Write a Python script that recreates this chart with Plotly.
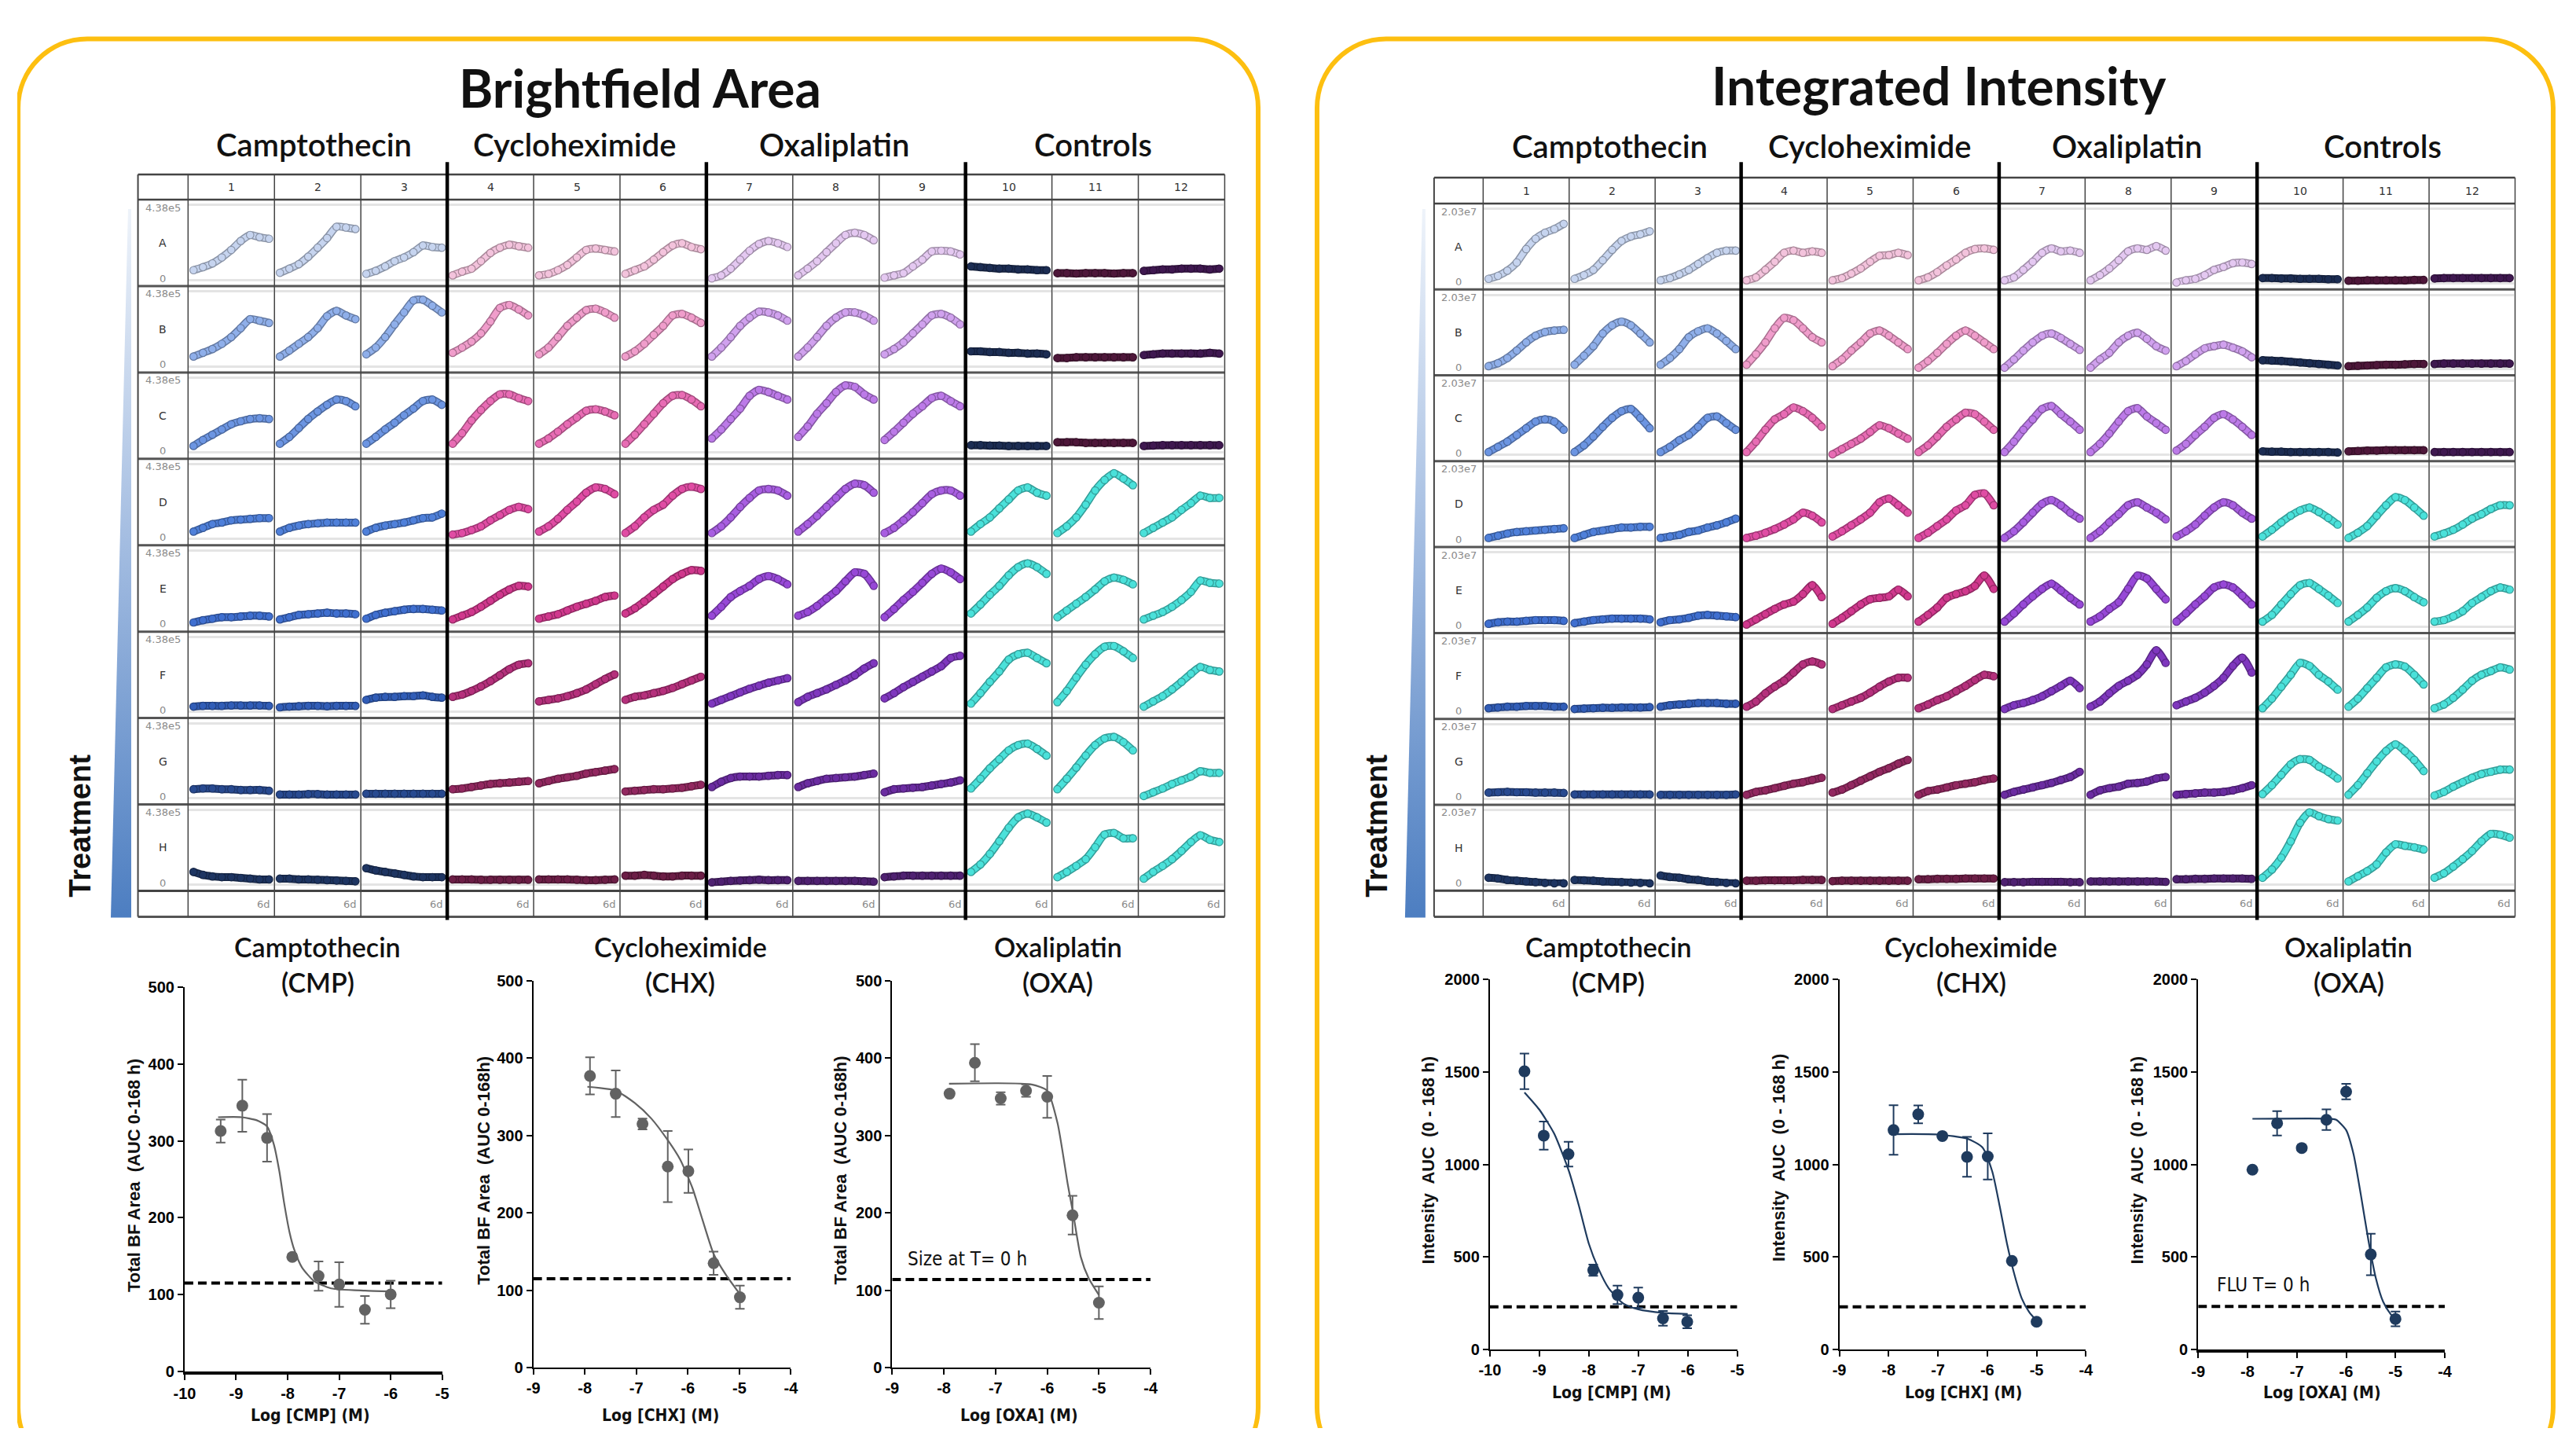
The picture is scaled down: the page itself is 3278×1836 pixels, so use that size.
import plotly.graph_objects as go

W, H = 3278, 1836          # reference canvas (page) size
OFF = 8                    # default page body margin
FW, FH = W - 2 * OFF, H - 2 * OFF
# small centred expansion that compensates the slight shrink seen in the photographed page
CX, CY = W / 2, H / 2
KX, KY = 1 / 0.9933, 1 / 0.9895

# ---------------------------------------------------------------- data
TIME_D = [0, 0.75, 1.5, 2.25, 3, 3.75, 4.5, 5.25, 6]
ROW_LETTERS = ["A", "B", "C", "D", "E", "F", "G", "H"]
COL_LABELS = [str(i) for i in range(1, 13)]
GROUP_NAMES = ["Camptothecin", "Cycloheximide", "Oxaliplatin", "Controls"]
BF_MAX_LABEL = "4.38e5"
II_MAX_LABEL = "2.03e7"
END_LABEL = "6d"

# Brightfield area time courses (fraction of 4.38e5), rows A-H, columns 1-12
BF_A = [
    [0.13, 0.17, 0.22, 0.30, 0.40, 0.52, 0.60, 0.57, 0.55],
    [0.095, 0.15, 0.21, 0.31, 0.43, 0.56, 0.71, 0.70, 0.68],
    [0.08, 0.12, 0.18, 0.25, 0.30, 0.37, 0.46, 0.44, 0.43],
    [0.06, 0.11, 0.15, 0.25, 0.36, 0.43, 0.47, 0.45, 0.43],
    [0.06, 0.08, 0.13, 0.20, 0.30, 0.40, 0.42, 0.40, 0.38],
    [0.08, 0.13, 0.18, 0.27, 0.37, 0.46, 0.49, 0.44, 0.41],
    [0.02, 0.06, 0.15, 0.27, 0.39, 0.48, 0.52, 0.49, 0.44],
    [0.06, 0.15, 0.25, 0.37, 0.49, 0.60, 0.63, 0.60, 0.53],
    [0.03, 0.06, 0.09, 0.18, 0.27, 0.38, 0.39, 0.38, 0.34],
    [0.18, 0.17, 0.16, 0.15, 0.15, 0.14, 0.14, 0.13, 0.13],
    [0.09, 0.09, 0.085, 0.09, 0.09, 0.09, 0.085, 0.09, 0.09],
    [0.12, 0.13, 0.14, 0.14, 0.15, 0.15, 0.15, 0.14, 0.15],
]
BF_B = [
    [0.13, 0.18, 0.23, 0.30, 0.39, 0.51, 0.63, 0.61, 0.58],
    [0.13, 0.21, 0.30, 0.39, 0.51, 0.67, 0.74, 0.68, 0.63],
    [0.16, 0.25, 0.39, 0.56, 0.72, 0.88, 0.89, 0.81, 0.72],
    [0.18, 0.25, 0.33, 0.44, 0.60, 0.78, 0.82, 0.76, 0.68],
    [0.16, 0.25, 0.39, 0.54, 0.65, 0.75, 0.77, 0.72, 0.65],
    [0.13, 0.20, 0.30, 0.42, 0.54, 0.68, 0.70, 0.65, 0.58],
    [0.13, 0.25, 0.39, 0.54, 0.65, 0.73, 0.72, 0.68, 0.61],
    [0.13, 0.25, 0.39, 0.54, 0.65, 0.72, 0.72, 0.68, 0.61],
    [0.16, 0.23, 0.32, 0.44, 0.56, 0.68, 0.70, 0.65, 0.56],
    [0.20, 0.20, 0.19, 0.19, 0.18, 0.18, 0.17, 0.17, 0.16],
    [0.11, 0.11, 0.12, 0.12, 0.12, 0.12, 0.12, 0.12, 0.12],
    [0.15, 0.16, 0.17, 0.17, 0.17, 0.17, 0.17, 0.18, 0.17],
]
BF_C = [
    [0.09, 0.17, 0.24, 0.31, 0.38, 0.42, 0.45, 0.46, 0.45],
    [0.12, 0.21, 0.33, 0.45, 0.55, 0.64, 0.71, 0.69, 0.62],
    [0.12, 0.21, 0.31, 0.40, 0.50, 0.59, 0.69, 0.71, 0.64],
    [0.12, 0.26, 0.43, 0.57, 0.69, 0.78, 0.78, 0.73, 0.69],
    [0.12, 0.19, 0.28, 0.38, 0.47, 0.56, 0.58, 0.55, 0.50],
    [0.12, 0.24, 0.38, 0.52, 0.66, 0.76, 0.77, 0.71, 0.62],
    [0.19, 0.31, 0.45, 0.59, 0.76, 0.84, 0.81, 0.76, 0.71],
    [0.21, 0.35, 0.52, 0.66, 0.81, 0.90, 0.88, 0.78, 0.71],
    [0.17, 0.28, 0.40, 0.52, 0.62, 0.73, 0.76, 0.69, 0.62],
    [0.10, 0.10, 0.095, 0.095, 0.09, 0.09, 0.09, 0.09, 0.09],
    [0.14, 0.14, 0.14, 0.13, 0.13, 0.13, 0.13, 0.13, 0.13],
    [0.09, 0.095, 0.10, 0.10, 0.10, 0.10, 0.10, 0.10, 0.10],
]
BF_D = [
    [0.10, 0.15, 0.20, 0.22, 0.25, 0.26, 0.27, 0.28, 0.28],
    [0.10, 0.15, 0.18, 0.20, 0.21, 0.22, 0.22, 0.22, 0.22],
    [0.10, 0.15, 0.18, 0.20, 0.22, 0.25, 0.28, 0.29, 0.34],
    [0.06, 0.08, 0.12, 0.17, 0.25, 0.32, 0.39, 0.43, 0.40],
    [0.10, 0.17, 0.27, 0.39, 0.50, 0.62, 0.69, 0.67, 0.60],
    [0.08, 0.17, 0.29, 0.39, 0.46, 0.58, 0.67, 0.70, 0.67],
    [0.08, 0.17, 0.29, 0.43, 0.55, 0.65, 0.67, 0.65, 0.58],
    [0.10, 0.20, 0.31, 0.43, 0.55, 0.67, 0.74, 0.72, 0.62],
    [0.08, 0.15, 0.25, 0.36, 0.48, 0.60, 0.65, 0.65, 0.58],
    [0.10, 0.20, 0.29, 0.41, 0.53, 0.65, 0.69, 0.62, 0.58],
    [0.08, 0.17, 0.29, 0.46, 0.65, 0.79, 0.88, 0.81, 0.72],
    [0.08, 0.15, 0.22, 0.29, 0.39, 0.48, 0.58, 0.55, 0.55],
]
BF_E = [
    [0.04, 0.07, 0.09, 0.11, 0.11, 0.12, 0.13, 0.13, 0.12],
    [0.08, 0.11, 0.14, 0.15, 0.16, 0.17, 0.16, 0.16, 0.15],
    [0.09, 0.14, 0.17, 0.19, 0.21, 0.22, 0.22, 0.21, 0.20],
    [0.08, 0.13, 0.18, 0.25, 0.33, 0.41, 0.48, 0.53, 0.52],
    [0.09, 0.12, 0.15, 0.20, 0.25, 0.29, 0.33, 0.38, 0.40],
    [0.16, 0.23, 0.32, 0.42, 0.52, 0.62, 0.69, 0.74, 0.73],
    [0.13, 0.25, 0.38, 0.46, 0.53, 0.62, 0.66, 0.62, 0.55],
    [0.13, 0.18, 0.26, 0.36, 0.46, 0.59, 0.71, 0.69, 0.53],
    [0.11, 0.22, 0.34, 0.45, 0.57, 0.69, 0.76, 0.71, 0.62],
    [0.16, 0.28, 0.41, 0.53, 0.67, 0.78, 0.83, 0.78, 0.69],
    [0.11, 0.20, 0.29, 0.38, 0.48, 0.59, 0.64, 0.61, 0.55],
    [0.08, 0.13, 0.18, 0.25, 0.34, 0.45, 0.60, 0.57, 0.56],
]
BF_F = [
    [0.07, 0.08, 0.08, 0.08, 0.085, 0.085, 0.085, 0.085, 0.08],
    [0.06, 0.07, 0.075, 0.08, 0.08, 0.075, 0.08, 0.08, 0.08],
    [0.16, 0.19, 0.20, 0.20, 0.21, 0.21, 0.22, 0.20, 0.19],
    [0.20, 0.23, 0.28, 0.34, 0.41, 0.49, 0.57, 0.63, 0.65],
    [0.14, 0.16, 0.18, 0.21, 0.25, 0.30, 0.37, 0.44, 0.50],
    [0.16, 0.20, 0.22, 0.25, 0.28, 0.32, 0.37, 0.42, 0.47],
    [0.11, 0.16, 0.21, 0.26, 0.31, 0.35, 0.39, 0.42, 0.45],
    [0.13, 0.20, 0.25, 0.30, 0.36, 0.42, 0.49, 0.58, 0.65],
    [0.18, 0.25, 0.33, 0.40, 0.47, 0.54, 0.61, 0.72, 0.75],
    [0.11, 0.25, 0.40, 0.54, 0.70, 0.77, 0.79, 0.72, 0.65],
    [0.13, 0.28, 0.46, 0.63, 0.77, 0.87, 0.88, 0.81, 0.72],
    [0.07, 0.14, 0.21, 0.30, 0.40, 0.51, 0.60, 0.56, 0.54],
]
BF_G = [
    [0.12, 0.13, 0.13, 0.12, 0.12, 0.11, 0.11, 0.11, 0.10],
    [0.05, 0.05, 0.05, 0.055, 0.055, 0.05, 0.05, 0.05, 0.05],
    [0.06, 0.06, 0.06, 0.06, 0.06, 0.06, 0.06, 0.06, 0.06],
    [0.12, 0.13, 0.15, 0.17, 0.19, 0.20, 0.21, 0.22, 0.23],
    [0.20, 0.23, 0.26, 0.28, 0.30, 0.33, 0.35, 0.37, 0.39],
    [0.09, 0.10, 0.11, 0.12, 0.12, 0.13, 0.14, 0.16, 0.18],
    [0.15, 0.22, 0.27, 0.29, 0.29, 0.29, 0.30, 0.31, 0.31],
    [0.15, 0.20, 0.23, 0.26, 0.27, 0.28, 0.29, 0.31, 0.33],
    [0.08, 0.12, 0.13, 0.14, 0.15, 0.17, 0.19, 0.21, 0.24],
    [0.13, 0.26, 0.40, 0.52, 0.64, 0.71, 0.73, 0.66, 0.57],
    [0.12, 0.26, 0.41, 0.57, 0.71, 0.80, 0.82, 0.75, 0.64],
    [0.03, 0.08, 0.13, 0.19, 0.24, 0.29, 0.36, 0.34, 0.34],
]
BF_H = [
    [0.17, 0.13, 0.11, 0.10, 0.10, 0.09, 0.08, 0.07, 0.07],
    [0.08, 0.08, 0.07, 0.07, 0.065, 0.06, 0.055, 0.05, 0.045],
    [0.22, 0.19, 0.17, 0.15, 0.13, 0.11, 0.10, 0.10, 0.10],
    [0.07, 0.07, 0.07, 0.065, 0.065, 0.065, 0.065, 0.065, 0.065],
    [0.07, 0.07, 0.07, 0.07, 0.065, 0.06, 0.06, 0.065, 0.07],
    [0.12, 0.12, 0.13, 0.12, 0.11, 0.11, 0.12, 0.12, 0.12],
    [0.03, 0.04, 0.05, 0.055, 0.06, 0.065, 0.06, 0.06, 0.06],
    [0.05, 0.05, 0.05, 0.05, 0.05, 0.05, 0.05, 0.045, 0.04],
    [0.10, 0.11, 0.12, 0.12, 0.12, 0.12, 0.12, 0.12, 0.12],
    [0.17, 0.27, 0.41, 0.58, 0.76, 0.90, 0.95, 0.90, 0.83],
    [0.10, 0.17, 0.25, 0.34, 0.50, 0.67, 0.69, 0.62, 0.62],
    [0.08, 0.17, 0.25, 0.34, 0.45, 0.57, 0.66, 0.60, 0.57],
]

# Integrated intensity time courses (fraction of 2.03e7)
II_A = [
    [0.06, 0.10, 0.17, 0.28, 0.46, 0.60, 0.68, 0.73, 0.80],
    [0.06, 0.11, 0.18, 0.31, 0.45, 0.57, 0.63, 0.66, 0.70],
    [0.04, 0.07, 0.12, 0.18, 0.26, 0.34, 0.41, 0.44, 0.44],
    [0.04, 0.08, 0.18, 0.29, 0.41, 0.44, 0.41, 0.43, 0.41],
    [0.04, 0.07, 0.13, 0.20, 0.29, 0.37, 0.38, 0.41, 0.38],
    [0.04, 0.08, 0.15, 0.24, 0.32, 0.41, 0.46, 0.47, 0.45],
    [0.04, 0.08, 0.18, 0.29, 0.41, 0.47, 0.43, 0.44, 0.41],
    [0.04, 0.11, 0.20, 0.31, 0.43, 0.47, 0.45, 0.50, 0.44],
    [0.01, 0.04, 0.06, 0.11, 0.18, 0.22, 0.27, 0.28, 0.26],
    [0.07, 0.07, 0.065, 0.065, 0.06, 0.06, 0.06, 0.055, 0.055],
    [0.035, 0.035, 0.04, 0.04, 0.04, 0.04, 0.04, 0.045, 0.045],
    [0.065, 0.07, 0.07, 0.07, 0.07, 0.07, 0.07, 0.07, 0.07],
]
II_B = [
    [0.04, 0.08, 0.15, 0.25, 0.36, 0.45, 0.50, 0.52, 0.53],
    [0.06, 0.18, 0.31, 0.48, 0.59, 0.64, 0.59, 0.48, 0.36],
    [0.06, 0.15, 0.27, 0.43, 0.51, 0.55, 0.48, 0.38, 0.27],
    [0.06, 0.20, 0.36, 0.55, 0.69, 0.66, 0.55, 0.43, 0.36],
    [0.04, 0.13, 0.25, 0.36, 0.48, 0.52, 0.45, 0.36, 0.27],
    [0.02, 0.11, 0.22, 0.34, 0.45, 0.52, 0.45, 0.36, 0.27],
    [0.02, 0.13, 0.25, 0.36, 0.45, 0.48, 0.42, 0.34, 0.26],
    [0.02, 0.13, 0.22, 0.36, 0.45, 0.49, 0.41, 0.31, 0.25],
    [0.04, 0.11, 0.20, 0.28, 0.31, 0.33, 0.29, 0.24, 0.16],
    [0.12, 0.115, 0.11, 0.10, 0.09, 0.08, 0.07, 0.06, 0.05],
    [0.04, 0.045, 0.05, 0.055, 0.06, 0.06, 0.065, 0.07, 0.07],
    [0.07, 0.075, 0.075, 0.075, 0.075, 0.075, 0.075, 0.075, 0.075],
]
II_C = [
    [0.04, 0.11, 0.18, 0.27, 0.36, 0.45, 0.48, 0.45, 0.34],
    [0.04, 0.13, 0.25, 0.38, 0.50, 0.59, 0.62, 0.50, 0.36],
    [0.04, 0.11, 0.20, 0.27, 0.38, 0.50, 0.52, 0.43, 0.34],
    [0.04, 0.18, 0.34, 0.48, 0.55, 0.64, 0.59, 0.50, 0.38],
    [0.01, 0.08, 0.15, 0.22, 0.31, 0.40, 0.36, 0.29, 0.22],
    [0.04, 0.13, 0.25, 0.38, 0.48, 0.57, 0.55, 0.45, 0.34],
    [0.04, 0.18, 0.34, 0.48, 0.62, 0.66, 0.55, 0.45, 0.34],
    [0.04, 0.15, 0.29, 0.45, 0.59, 0.63, 0.52, 0.43, 0.34],
    [0.06, 0.15, 0.27, 0.38, 0.50, 0.55, 0.48, 0.38, 0.27],
    [0.05, 0.045, 0.045, 0.04, 0.04, 0.04, 0.04, 0.04, 0.035],
    [0.05, 0.055, 0.06, 0.06, 0.065, 0.065, 0.065, 0.065, 0.065],
    [0.04, 0.04, 0.04, 0.04, 0.04, 0.04, 0.04, 0.04, 0.04],
]
II_D = [
    [0.04, 0.07, 0.10, 0.12, 0.13, 0.14, 0.15, 0.16, 0.17],
    [0.04, 0.08, 0.12, 0.14, 0.16, 0.18, 0.18, 0.19, 0.19],
    [0.04, 0.06, 0.08, 0.12, 0.14, 0.18, 0.21, 0.25, 0.30],
    [0.04, 0.07, 0.11, 0.16, 0.22, 0.29, 0.38, 0.34, 0.25],
    [0.06, 0.13, 0.21, 0.29, 0.38, 0.52, 0.57, 0.48, 0.38],
    [0.04, 0.11, 0.20, 0.29, 0.41, 0.48, 0.62, 0.64, 0.48],
    [0.04, 0.13, 0.25, 0.38, 0.50, 0.55, 0.48, 0.38, 0.30],
    [0.04, 0.13, 0.25, 0.36, 0.48, 0.52, 0.45, 0.38, 0.29],
    [0.06, 0.13, 0.22, 0.34, 0.45, 0.52, 0.48, 0.38, 0.30],
    [0.06, 0.15, 0.25, 0.34, 0.41, 0.45, 0.39, 0.31, 0.22],
    [0.04, 0.11, 0.20, 0.34, 0.48, 0.59, 0.55, 0.45, 0.34],
    [0.06, 0.10, 0.15, 0.22, 0.30, 0.36, 0.43, 0.48, 0.48],
]
II_E = [
    [0.04, 0.06, 0.07, 0.07, 0.08, 0.09, 0.09, 0.09, 0.08],
    [0.05, 0.07, 0.09, 0.10, 0.11, 0.11, 0.11, 0.11, 0.10],
    [0.06, 0.09, 0.10, 0.12, 0.15, 0.16, 0.15, 0.14, 0.13],
    [0.03, 0.10, 0.17, 0.24, 0.30, 0.34, 0.44, 0.56, 0.40],
    [0.04, 0.12, 0.21, 0.30, 0.37, 0.39, 0.41, 0.50, 0.41],
    [0.07, 0.16, 0.26, 0.39, 0.44, 0.48, 0.55, 0.69, 0.51],
    [0.07, 0.18, 0.30, 0.41, 0.51, 0.58, 0.49, 0.39, 0.30],
    [0.07, 0.14, 0.24, 0.33, 0.51, 0.69, 0.65, 0.51, 0.37],
    [0.07, 0.18, 0.30, 0.41, 0.53, 0.57, 0.53, 0.42, 0.30],
    [0.07, 0.16, 0.30, 0.44, 0.56, 0.59, 0.51, 0.42, 0.32],
    [0.07, 0.16, 0.26, 0.39, 0.48, 0.52, 0.48, 0.40, 0.33],
    [0.07, 0.09, 0.14, 0.21, 0.32, 0.40, 0.48, 0.53, 0.50],
]
II_F = [
    [0.06, 0.07, 0.08, 0.08, 0.09, 0.09, 0.09, 0.08, 0.08],
    [0.05, 0.055, 0.06, 0.065, 0.065, 0.07, 0.07, 0.07, 0.075],
    [0.08, 0.10, 0.11, 0.12, 0.13, 0.13, 0.13, 0.12, 0.12],
    [0.08, 0.15, 0.26, 0.35, 0.43, 0.54, 0.65, 0.69, 0.65],
    [0.05, 0.10, 0.15, 0.20, 0.27, 0.35, 0.42, 0.47, 0.47],
    [0.06, 0.11, 0.17, 0.22, 0.29, 0.36, 0.44, 0.51, 0.49],
    [0.05, 0.10, 0.13, 0.17, 0.22, 0.29, 0.36, 0.43, 0.33],
    [0.08, 0.15, 0.26, 0.36, 0.43, 0.51, 0.65, 0.84, 0.67],
    [0.10, 0.15, 0.20, 0.27, 0.36, 0.47, 0.63, 0.74, 0.54],
    [0.06, 0.19, 0.35, 0.51, 0.67, 0.63, 0.51, 0.42, 0.31],
    [0.08, 0.19, 0.33, 0.47, 0.61, 0.65, 0.62, 0.51, 0.38],
    [0.06, 0.11, 0.20, 0.31, 0.43, 0.51, 0.56, 0.61, 0.58],
]
II_G = [
    [0.08, 0.085, 0.09, 0.085, 0.085, 0.08, 0.08, 0.08, 0.075],
    [0.055, 0.055, 0.055, 0.055, 0.055, 0.055, 0.055, 0.055, 0.055],
    [0.05, 0.05, 0.05, 0.05, 0.05, 0.05, 0.05, 0.05, 0.055],
    [0.05, 0.09, 0.11, 0.14, 0.17, 0.20, 0.22, 0.25, 0.28],
    [0.08, 0.12, 0.18, 0.24, 0.30, 0.36, 0.41, 0.47, 0.52],
    [0.05, 0.10, 0.12, 0.15, 0.18, 0.20, 0.22, 0.25, 0.27],
    [0.05, 0.09, 0.12, 0.15, 0.18, 0.21, 0.25, 0.29, 0.36],
    [0.05, 0.11, 0.14, 0.16, 0.20, 0.21, 0.23, 0.27, 0.29],
    [0.05, 0.06, 0.07, 0.08, 0.08, 0.09, 0.11, 0.14, 0.18],
    [0.06, 0.18, 0.32, 0.46, 0.53, 0.52, 0.43, 0.36, 0.27],
    [0.05, 0.18, 0.34, 0.50, 0.64, 0.73, 0.64, 0.52, 0.37],
    [0.04, 0.09, 0.16, 0.22, 0.28, 0.33, 0.36, 0.39, 0.39],
]
II_H = [
    [0.09, 0.08, 0.06, 0.05, 0.04, 0.03, 0.02, 0.015, 0.015],
    [0.06, 0.055, 0.05, 0.04, 0.035, 0.03, 0.025, 0.02, 0.015],
    [0.12, 0.10, 0.09, 0.07, 0.06, 0.04, 0.03, 0.02, 0.015],
    [0.05, 0.05, 0.055, 0.055, 0.055, 0.055, 0.06, 0.06, 0.06],
    [0.045, 0.05, 0.05, 0.05, 0.05, 0.05, 0.05, 0.05, 0.05],
    [0.07, 0.07, 0.075, 0.075, 0.075, 0.08, 0.08, 0.08, 0.08],
    [0.03, 0.03, 0.03, 0.035, 0.035, 0.035, 0.035, 0.03, 0.03],
    [0.04, 0.04, 0.04, 0.04, 0.04, 0.04, 0.04, 0.04, 0.035],
    [0.07, 0.07, 0.075, 0.075, 0.08, 0.08, 0.08, 0.08, 0.075],
    [0.09, 0.20, 0.36, 0.58, 0.83, 0.97, 0.92, 0.88, 0.86],
    [0.04, 0.11, 0.18, 0.27, 0.43, 0.54, 0.52, 0.50, 0.47],
    [0.09, 0.15, 0.24, 0.34, 0.45, 0.58, 0.68, 0.67, 0.63],
]
BF_ROWS = [BF_A, BF_B, BF_C, BF_D, BF_E, BF_F, BF_G, BF_H]
II_ROWS = [II_A, II_B, II_C, II_D, II_E, II_F, II_G, II_H]

# dose-response panels
DOSE_NAMES = ["Camptothecin", "Cycloheximide", "Oxaliplatin"]
DOSE_ABBR = ["(CMP)", "(CHX)", "(OXA)"]
X_TITLES = ["Log [CMP] (M)", "Log [CHX] (M)", "Log [OXA] (M)"]
BF_YTITLES = ["Total BF Area  (AUC 0-168 h)", "Total BF Area  (AUC 0-168h)",
              "Total BF Area  (AUC 0-168h)"]
II_YTITLES = ["Intensity  AUC  (0 - 168 h)"] * 3
X_TICKS = [[-10, -9, -8, -7, -6, -5], [-9, -8, -7, -6, -5, -4], [-9, -8, -7, -6, -5, -4]]
BF_YTICKS = [0, 100, 200, 300, 400, 500]
II_YTICKS = [0, 500, 1000, 1500, 2000]
BF_NOTE = "Size at T= 0 h"
II_NOTE = "FLU T= 0 h"
BF_NOTE_XY = (-8.73, 140)
II_NOTE_XY = (-8.65, 349)

BF_CMP_X = [-9.3, -8.88, -8.4, -7.91, -7.4, -7.0, -6.5, -6.0]
BF_CMP_Y = [313, 346, 304, 149, 124, 113, 80, 100]
BF_CMP_E = [15, 34, 31, 4, 19, 29, 18, 18]
BF_CMP_FX = [-9.35, -8.9, -8.6, -8.4, -8.27, -8.16, -8.07, -7.96, -7.87, -7.72, -7.48, -7.16, -6.5, -6.0]
BF_CMP_FY = [331, 331, 327, 319, 296, 260, 220, 180, 158, 135, 117, 108, 105, 104]

BF_CHX_X = [-7.9, -7.4, -6.88, -6.39, -5.99, -5.5, -4.99]
BF_CHX_Y = [377, 354, 315, 260, 254, 135, 91]
BF_CHX_E = [24, 30, 7, 46, 28, 15, 15]
BF_CHX_FX = [-7.95, -7.4, -7.03, -6.71, -6.39, -6.15, -5.91, -5.72, -5.5, -5.27, -5.0]
BF_CHX_FY = [363, 358, 342, 322, 294, 269, 232, 192, 147, 121, 96]

BF_OXA_X = [-7.89, -7.4, -6.9, -6.41, -6.0, -5.51, -5.0]
BF_OXA_Y = [354, 394, 348, 358, 350, 197, 84]
BF_OXA_E = [3, 24, 8, 8, 27, 25, 21]
BF_OXA_FX = [-7.9, -6.3, -6.0, -5.8, -5.6, -5.5, -5.35, -5.2, -5.0]
BF_OXA_FY = [367, 366, 358, 316, 236, 200, 143, 116, 94]
BF_T0 = [115, 115, 114]

II_CMP_X = [-9.3, -8.91, -8.41, -7.91, -7.42, -7.0, -6.5, -6.01]
II_CMP_Y = [1504, 1156, 1056, 428, 294, 279, 167, 149]
II_CMP_E = [96, 76, 67, 30, 50, 55, 40, 35]
II_CMP_FX = [-9.3, -9.0, -8.7, -8.4, -8.2, -8.0, -7.8, -7.6, -7.3, -7.0, -6.5, -6.0]
II_CMP_FY = [1390, 1297, 1167, 963, 777, 572, 433, 331, 247, 216, 197, 191]

II_CHX_X = [-7.9, -7.4, -6.91, -6.41, -5.99, -5.5, -5.0]
II_CHX_Y = [1186, 1271, 1154, 1041, 1043, 478, 149]
II_CHX_E = [134, 48, 8, 108, 125, 5, 10]
II_CHX_FX = [-7.9, -7.0, -6.4, -6.1, -5.9, -5.75, -5.6, -5.45, -5.3, -5.15, -5.0]
II_CHX_FY = [1164, 1162, 1139, 1093, 963, 777, 572, 405, 275, 201, 154]

II_OXA_X = [-7.9, -7.4, -6.9, -6.4, -6.0, -5.5, -5.0]
II_OXA_Y = [972, 1223, 1089, 1242, 1394, 513, 164]
II_OXA_E = [5, 66, 5, 56, 42, 112, 40]
II_OXA_FX = [-7.9, -6.3, -6.2, -6.0, -5.85, -5.7, -5.55, -5.4, -5.25, -5.1, -5.0]
II_OXA_FY = [1247, 1247, 1242, 1186, 1056, 833, 591, 387, 257, 191, 164]
II_T0 = [230, 230, 232]

# ---------------------------------------------------------------- style
CPT_FILL = ["#c6d4ef", "#8fafea", "#6c95e2", "#4f80da", "#3f6fd0", "#315db7", "#284a90", "#1e3562"]
CHX_FILL = ["#f3c3dc", "#f09dcb", "#e86cb4", "#e04ca4", "#d0388d", "#b5307c", "#922860", "#6c1e46"]
OXA_FILL = ["#e4c8f1", "#d0a1ee", "#bc7ae8", "#a85ee1", "#9748d7", "#7f37be", "#6b2ca1", "#4f2171"]
CTRL_DARK = ["#1c2d53", "#4e173a", "#3f1850"]
CYAN = "#4ae1da"
ORANGE = "#fdbf10"
BF_DOT = "#626262"
II_DOT = "#1f3b5e"

LATO = "Lato, Open Sans, sans-serif"
ARIAL = "Liberation Sans, Arial, sans-serif"
NARROW = "Liberation Sans Narrow, Arial Narrow, DejaVu Sans Condensed, sans-serif"
VERD = "DejaVu Sans, Verdana, sans-serif"


def darker(h, f=0.70):
    h = h.lstrip("#")
    r, g, b = int(h[0:2], 16), int(h[2:4], 16), int(h[4:6], 16)
    return "#%02x%02x%02x" % (int(r * f), int(g * f), int(b * f))


def cell_fill(r, c):
    if c < 3:
        return CPT_FILL[r]
    if c < 6:
        return CHX_FILL[r]
    if c < 9:
        return OXA_FILL[r]
    return CTRL_DARK[c - 9] if r < 3 else CYAN


def page_x(px):
    return CX + (px - CX) * KX


def page_y(py):
    return CY + (py - CY) * KY


fig = go.Figure()
lay = {}
shapes = []
annotations = []
n_ax = [0]


def add_axes(x0, x1, ytop, ybot, xr, yr, xkw=None, ykw=None, raw=False):
    """x0..x1, ytop..ybot are reference pixel positions of the plot area."""
    n_ax[0] += 1
    k = n_ax[0]
    s = "" if k == 1 else str(k)
    if raw:
        dx, dy = [0, 1], [0, 1]
    else:
        dx = [max(0, (page_x(x0) - OFF) / FW), min(1, (page_x(x1) - OFF) / FW)]
        dy = [max(0, 1 - (page_y(ybot) - OFF) / FH), min(1, 1 - (page_y(ytop) - OFF) / FH)]
    xd = dict(domain=dx, range=xr, anchor="y" + s, fixedrange=True)
    yd = dict(domain=dy, range=yr, anchor="x" + s, fixedrange=True)
    xd.update(xkw or {})
    yd.update(ykw or {})
    lay["xaxis" + s] = xd
    lay["yaxis" + s] = yd
    return "x" + s, "y" + s


def ann(x, y, text, size, family, color="#111111", weight="normal", xanchor="center",
        yanchor="middle", angle=0, xref="x", yref="y"):
    annotations.append(dict(x=x, y=y, xref=xref, yref=yref, text=text, showarrow=False,
                            font=dict(family=family, size=size, color=color, weight=weight),
                            xanchor=xanchor, yanchor=yanchor, textangle=angle))


def hline(x0, x1, y, color, width):
    shapes.append(dict(type="line", xref="x", yref="y", x0=x0, x1=x1, y0=y, y1=y,
                       layer="above", line=dict(color=color, width=width)))


def vline(x, y0, y1, color, width):
    shapes.append(dict(type="line", xref="x", yref="y", x0=x, x1=x, y0=y0, y1=y1,
                       layer="above", line=dict(color=color, width=width)))


# canvas axis in reference pixel coordinates (for decorations)
rx0 = CX + (OFF - CX) / KX
rx1 = CX + (OFF + FW - CX) / KX
ry0 = CY + (OFF - CY) / KY
ry1 = CY + (OFF + FH - CY) / KY
add_axes(0, 0, 0, 0, [rx0, rx1], [ry1, ry0], dict(visible=False), dict(visible=False), raw=True)

PANELS = [
    dict(rows=BF_ROWS, maxlab=BF_MAX_LABEL, title="Brightfield Area", tx=812, ty=110,
         left=172.6, c0=236.4, cw=110.0, ht=221, hb=253.0, rh=110.1, fb=1167,
         gx=[397, 729, 1059, 1389], gy=183, border=(20, 1599), treat_x=99, wedge_r=164),
    dict(rows=II_ROWS, maxlab=II_MAX_LABEL, title="Integrated Intensity", tx=2466, ty=107,
         left=1823, c0=1885.5, cw=109.5, ht=225, hb=258, rh=109.44, fb=1167,
         gx=[2047, 2377.5, 2705.5, 3031], gy=185, border=(1674, 3248), treat_x=1750, wedge_r=1812),
]


def rounded_path(x0, y0, x1, y1, r):
    k = 0.5523 * r
    return (f"M {x0 + r},{y0} L {x1 - r},{y0} C {x1 - r + k},{y0} {x1},{y0 + r - k} {x1},{y0 + r} "
            f"L {x1},{y1 - r} C {x1},{y1 - r + k} {x1 - r + k},{y1} {x1 - r},{y1} "
            f"L {x0 + r},{y1} C {x0 + r - k},{y1} {x0},{y1 - r + k} {x0},{y1 - r} "
            f"L {x0},{y0 + r} C {x0},{y0 + r - k} {x0 + r - k},{y0} {x0 + r},{y0} Z")


for p in PANELS:
    # orange rounded frame
    shapes.append(dict(type="path", xref="x", yref="y", layer="above",
                       path=rounded_path(p["border"][0], 48, p["border"][1], 1880, 88),
                       line=dict(color=ORANGE, width=6)))
    ann(p["tx"], p["ty"], p["title"], 66, LATO, weight="bold")
    for g, gx in zip(GROUP_NAMES, p["gx"]):
        ann(gx, p["gy"], g, 40, LATO, weight=600)

    left, c0, cw, ht, hb, rh, fb = p["left"], p["c0"], p["cw"], p["ht"], p["hb"], p["rh"], p["fb"]
    right = c0 + 12 * cw
    hbot = hb + 8 * rh

    # treatment wedge + label
    wr = p["wedge_r"]
    fig.add_trace(go.Scatter(x=[wr - 4, wr, wr, wr - 26, wr - 4], y=[265, 265, 1168, 1168, 265],
                             xaxis="x", yaxis="y", mode="lines", fill="toself",
                             line=dict(width=0, color="rgba(0,0,0,0)"),
                             fillgradient=dict(type="vertical", start=265, stop=1168,
                                               colorscale=[[0, "#eef3fa"], [0.5, "#9db8df"], [1, "#4a7cc0"]]),
                             hoverinfo="skip", showlegend=False))
    ann(p["treat_x"], 1051, "Treatment", 38, ARIAL, weight="bold", angle=-90)

    # cells
    for r in range(8):
        top = hb + r * rh
        bot = top + rh
        ann((left + c0) / 2, top + 10, p["maxlab"], 13, VERD, color="#8a8a8a")
        ann((left + c0) / 2, top + rh / 2, ROW_LETTERS[r], 14, VERD, color="#333333")
        ann((left + c0) / 2, bot - 10, "0", 13, VERD, color="#8a8a8a")
        for c in range(12):
            xl = c0 + c * cw
            xa, ya = add_axes(xl + 1, xl + cw - 1, top + 5, bot - 6, [-0.37, 6.37], [-0.02, 1.02],
                              dict(visible=False),
                              dict(showgrid=True, gridcolor="#e4e4e4", gridwidth=3, tickvals=[0, 1],
                                   showticklabels=False, zeroline=False, ticks="", showline=False))
            vals = p["rows"][r][c]
            fc = cell_fill(r, c)
            ec = darker(fc)
            fig.add_trace(go.Scatter(x=TIME_D, y=vals, xaxis=xa, yaxis=ya, mode="lines",
                                     line=dict(color=ec, width=10, shape="spline", smoothing=0.7),
                                     hoverinfo="skip", showlegend=False, cliponaxis=False))
            fig.add_trace(go.Scatter(x=TIME_D, y=vals, xaxis=xa, yaxis=ya, mode="lines+markers",
                                     line=dict(color=fc, width=7, shape="spline", smoothing=0.7),
                                     marker=dict(size=9.5, color=fc, line=dict(color=ec, width=1.2)),
                                     hoverinfo="skip", showlegend=False, cliponaxis=False))
    # column numbers and footer
    for c in range(12):
        ann(c0 + (c + 0.5) * cw, (ht + hb) / 2, COL_LABELS[c], 14, VERD, color="#333333")
        ann(c0 + (c + 1) * cw - 3, (hbot + fb) / 2, END_LABEL, 13, VERD, color="#8a8a8a", xanchor="right")
    # table lines
    hline(left, right, ht, "#444444", 2.5)
    hline(left, right, hb, "#444444", 2.5)
    for r in range(1, 8):
        hline(left, right, hb + r * rh, "#555555", 3)
    hline(left, right, hbot, "#444444", 3)
    hline(left, right, fb, "#555555", 3)
    vline(left, ht, fb, "#444444", 2)
    for c in range(13):
        vline(c0 + c * cw, ht, fb, "#444444", 1.5)
    for c in (3, 6, 9):
        vline(c0 + c * cw, 205, 1171, "#000000", 4.5)

# ---------------------------------------------------------------- dose-response panels
BF_BOXES = [(232, 560, 1257, 1746), (676, 1004, 1248.4, 1741.5), (1133, 1462, 1248.4, 1741.5)]
II_BOXES = [(1894, 2209, 1247, 1718), (2339, 2653, 1247, 1718), (2796, 3110, 1247, 1718)]
BF_TITLE_X = [401.6, 863, 1344]
II_TITLE_X = [2045, 2507, 2987.5]
BF_XT = [(392, 1802), (838, 1802), (1295, 1802)]
II_XT = [(2049.5, 1773), (2496.6, 1773), (2954, 1773)]
BF_YT = [(167, 1496), (612, 1490), (1067, 1490)]
II_YT = [(1815.5, 1477), (2261.5, 1474), (2718, 1477)]

DOSE_SETS = [
    dict(boxes=BF_BOXES, tx=BF_TITLE_X, xt=BF_XT, yt=BF_YT, ytitles=BF_YTITLES, yticks=BF_YTICKS,
         yr=[0, 500], color=BF_DOT, t0=BF_T0, note=BF_NOTE, note_xy=BF_NOTE_XY, xlw=[4, 2, 2],
         data=[(BF_CMP_X, BF_CMP_Y, BF_CMP_E, BF_CMP_FX, BF_CMP_FY),
               (BF_CHX_X, BF_CHX_Y, BF_CHX_E, BF_CHX_FX, BF_CHX_FY),
               (BF_OXA_X, BF_OXA_Y, BF_OXA_E, BF_OXA_FX, BF_OXA_FY)]),
    dict(boxes=II_BOXES, tx=II_TITLE_X, xt=II_XT, yt=II_YT, ytitles=II_YTITLES, yticks=II_YTICKS,
         yr=[0, 2000], color=II_DOT, t0=II_T0, note=II_NOTE, note_xy=II_NOTE_XY, xlw=[2, 2, 4],
         data=[(II_CMP_X, II_CMP_Y, II_CMP_E, II_CMP_FX, II_CMP_FY),
               (II_CHX_X, II_CHX_Y, II_CHX_E, II_CHX_FX, II_CHX_FY),
               (II_OXA_X, II_OXA_Y, II_OXA_E, II_OXA_FX, II_OXA_FY)]),
]

tickfont = dict(family=ARIAL, size=20, color="black", weight="bold")
for ds in DOSE_SETS:
    for i in range(3):
        x0, x1, yt, yb = ds["boxes"][i]
        xt = X_TICKS[i]
        xr = [xt[0], xt[-1]]
        axis_common = dict(showline=True, linecolor="black", ticks="outside", ticklen=7, tickwidth=2,
                           tickcolor="black", showgrid=False, zeroline=False, tickfont=tickfont)
        xa, ya = add_axes(x0, x1, yt, yb, xr, ds["yr"],
                          dict(axis_common, linewidth=ds["xlw"][i], tickvals=xt,
                               ticktext=[str(v) for v in xt]),
                          dict(axis_common, linewidth=2, tickvals=ds["yticks"],
                               ticktext=[str(v) for v in ds["yticks"]]))
        px, py, pe, fx, fy = ds["data"][i]
        fig.add_trace(go.Scatter(x=xr, y=[ds["t0"][i]] * 2, xaxis=xa, yaxis=ya, mode="lines",
                                 line=dict(color="black", width=4, dash="11px,6px"),
                                 hoverinfo="skip", showlegend=False))
        fig.add_trace(go.Scatter(x=fx, y=fy, xaxis=xa, yaxis=ya, mode="lines",
                                 line=dict(color=ds["color"], width=2.2, shape="spline", smoothing=0.6),
                                 hoverinfo="skip", showlegend=False))
        fig.add_trace(go.Scatter(x=px, y=py, xaxis=xa, yaxis=ya, mode="markers",
                                 marker=dict(size=15, color=ds["color"]),
                                 error_y=dict(type="data", array=pe, thickness=2, width=6, color=ds["color"]),
                                 hoverinfo="skip", showlegend=False, cliponaxis=False))
        ann(ds["tx"][i], 1204.7, DOSE_NAMES[i], 34, LATO, weight=600)
        ann(ds["tx"][i], 1249.75, DOSE_ABBR[i], 34, LATO, weight=600)
        ann(ds["xt"][i][0], ds["xt"][i][1], X_TITLES[i], 21, NARROW, weight="bold")
        ann(ds["yt"][i][0], ds["yt"][i][1], ds["ytitles"][i], 22, ARIAL, weight="bold", angle=-90)
        if i == 2:
            ann(ds["note_xy"][0], ds["note_xy"][1], ds["note"], 24, NARROW, xanchor="left",
                xref=xa, yref=ya)

lay.update(dict(width=FW, height=FH, margin=dict(l=0, r=0, t=0, b=0, pad=0),
                paper_bgcolor="white", plot_bgcolor="rgba(0,0,0,0)", showlegend=False,
                shapes=shapes, annotations=annotations))
fig.update_layout(lay)

fig.write_html("out.html", config={"staticPlot": True})
